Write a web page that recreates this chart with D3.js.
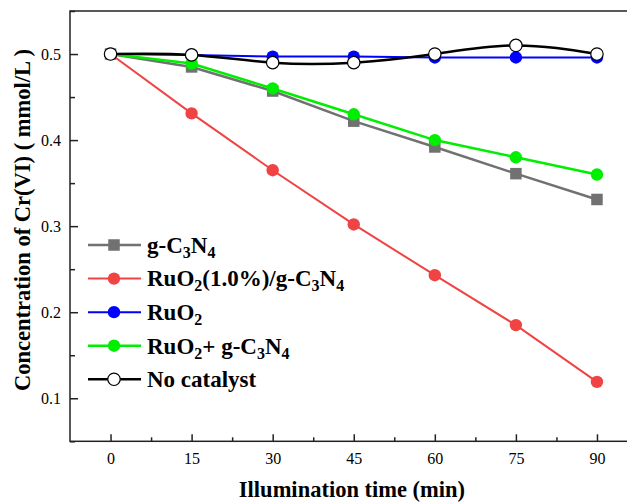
<!DOCTYPE html>
<html>
<head>
<meta charset="utf-8">
<script src="https://cdn.jsdelivr.net/npm/d3@7"></script>
<style>
  html, body { margin: 0; padding: 0; background: #fff; }
  svg { display: block; }
  text { font-family: "Liberation Serif", "Times New Roman", serif; fill: #000; }
</style>
</head>
<body>
<svg id="chart" width="627" height="502"></svg>
<script>
// Illumination time (min)
const times = [0, 15, 30, 45, 60, 75, 90];

// Cr(VI) concentration (mmol/L) for each sample
const gC3N4      = [0.500, 0.485, 0.457, 0.422, 0.392, 0.361, 0.331];
const ruO2Loaded = [0.500, 0.431, 0.365, 0.302, 0.243, 0.185, 0.119];
const ruO2       = [0.500, 0.499, 0.497, 0.497, 0.496, 0.496, 0.496];
const ruO2Mix    = [0.500, 0.489, 0.460, 0.430, 0.400, 0.380, 0.360];
const noCatalyst = [0.500, 0.499, 0.490, 0.490, 0.500, 0.510, 0.500];

const xTicks = [0, 15, 30, 45, 60, 75, 90];
const yTicks = [0.1, 0.2, 0.3, 0.4, 0.5];

const series = [
  { key: "g", values: gC3N4, color: "#717171", marker: "square", fill: "#717171", width: 2.5, curve: d3.curveLinear,
    label: [["g-C", 0], ["3", 1], ["N", 0], ["4", 1]] },
  { key: "r", values: ruO2Loaded, color: "#f04343", marker: "circle", fill: "#f04343", width: 2, curve: d3.curveLinear,
    label: [["RuO", 0], ["2", 1], ["(1.0%)/g-C", 0], ["3", 1], ["N", 0], ["4", 1]] },
  { key: "b", values: ruO2, color: "#0000ff", marker: "circle", fill: "#0000ff", width: 2, curve: d3.curveLinear,
    label: [["RuO", 0], ["2", 1]] },
  { key: "m", values: ruO2Mix, color: "#00ee00", marker: "circle", fill: "#00ee00", width: 2.5, curve: d3.curveLinear,
    label: [["RuO", 0], ["2", 1], ["+ g-C", 0], ["3", 1], ["N", 0], ["4", 1]] },
  { key: "n", values: noCatalyst, color: "#000000", marker: "circle", fill: "#ffffff", width: 2.5, curve: d3.curveNatural,
    label: [["No catalyst", 0]] }
];

const svg = d3.select("#chart");
const plotLeft = 70, plotRight = 637.5, plotTop = 11, plotBottom = 441.3;

const x = d3.scaleLinear().domain([-7.5, 97.5]).range([plotLeft, plotRight]);
const y = d3.scaleLinear().domain([0.05, 0.55]).range([plotBottom, plotTop]);

// Frame
svg.append("rect")
  .attr("x", plotLeft).attr("y", plotTop)
  .attr("width", plotRight - plotLeft).attr("height", plotBottom - plotTop)
  .attr("fill", "none").attr("stroke", "#222").attr("stroke-width", 1.5);

// X axis: inward major and minor ticks
const xAxis = svg.append("g").attr("transform", `translate(0,${plotBottom})`);
xAxis.call(d3.axisBottom(x).tickValues(xTicks).tickSize(-7).tickFormat(d3.format("d")));
xAxis.append("g").call(d3.axisBottom(x).tickValues(xTicks.slice(0, -1).map(t => t + 7.5)).tickSize(-4).tickFormat(""));
xAxis.selectAll(".domain").remove();
xAxis.selectAll("line").attr("stroke", "#222").attr("stroke-width", 1.5);
xAxis.selectAll("text").attr("y", 23).attr("dy", 0).style("font-size", "16px")
  .style("font-family", "'Liberation Serif', serif");

// Y axis: inward major and minor ticks
const yAxis = svg.append("g").attr("transform", `translate(${plotLeft},0)`);
yAxis.call(d3.axisLeft(y).tickValues(yTicks).tickSize(-8).tickFormat(d3.format(".1f")));
yAxis.append("g").call(d3.axisLeft(y).tickValues(yTicks.map(t => t + 0.05).concat([0.05])).tickSize(-5).tickFormat(""));
yAxis.selectAll(".domain").remove();
yAxis.selectAll("line").attr("stroke", "#222").attr("stroke-width", 1.5);
yAxis.selectAll("text").attr("x", -9).attr("dy", "0.35em").style("font-size", "16px")
  .style("font-family", "'Liberation Serif', serif");

// Axis titles
svg.append("text")
  .attr("x", 352).attr("y", 497)
  .attr("text-anchor", "middle")
  .style("font-size", "22.5px").style("font-weight", "bold")
  .text("Illumination time (min)");

svg.append("text")
  .attr("transform", `translate(30,220) rotate(-90)`)
  .attr("text-anchor", "middle")
  .style("font-size", "22.5px").style("font-weight", "bold")
  .text("Concentration of Cr(VI) ( mmol/L )");

// Series lines and markers
const markerR = 6.2, sq = 11.5;
function drawMarker(g, s) {
  if (s.marker === "square") {
    g.append("rect").attr("x", -sq / 2).attr("y", -sq / 2).attr("width", sq).attr("height", sq)
      .attr("fill", s.fill);
  } else {
    g.append("circle").attr("r", markerR)
      .attr("fill", s.fill)
      .attr("stroke", s.fill === "#ffffff" ? "#000" : "none")
      .attr("stroke-width", 1.2);
  }
}

series.forEach(s => {
  const pts = times.map((t, i) => [t, s.values[i]]);
  const line = d3.line().x(d => x(d[0])).y(d => y(d[1])).curve(s.curve);
  const g = svg.append("g").attr("class", "series-" + s.key);
  g.append("path").attr("d", line(pts)).attr("fill", "none")
    .attr("stroke", s.color).attr("stroke-width", s.width);
  pts.forEach(p => {
    const mg = g.append("g").attr("transform", `translate(${x(p[0])},${y(p[1])})`);
    drawMarker(mg, s);
  });
});

// Legend
const legendY = d3.scalePoint().domain(series.map(s => s.key)).range([245, 379.3]);
series.forEach(s => {
  const cy = legendY(s.key);
  const g = svg.append("g").attr("transform", `translate(0,${cy})`);
  g.append("line").attr("x1", 88).attr("x2", 141).attr("y1", 0).attr("y2", 0)
    .attr("stroke", s.color).attr("stroke-width", s.width);
  drawMarker(g.append("g").attr("transform", "translate(114,0)"), s);
  const t = g.append("text").attr("x", 147).attr("y", 7.8)
    .style("font-size", "23px").style("font-weight", "bold");
  let lowered = false;
  s.label.forEach(([str, sub]) => {
    const ts = t.append("tspan").text(str);
    if (sub) { ts.style("font-size", "16px").attr("dy", lowered ? 0 : 5); lowered = true; }
    else { ts.attr("dy", lowered ? -5 : 0); lowered = false; }
  });
});
</script>
</body>
</html>
